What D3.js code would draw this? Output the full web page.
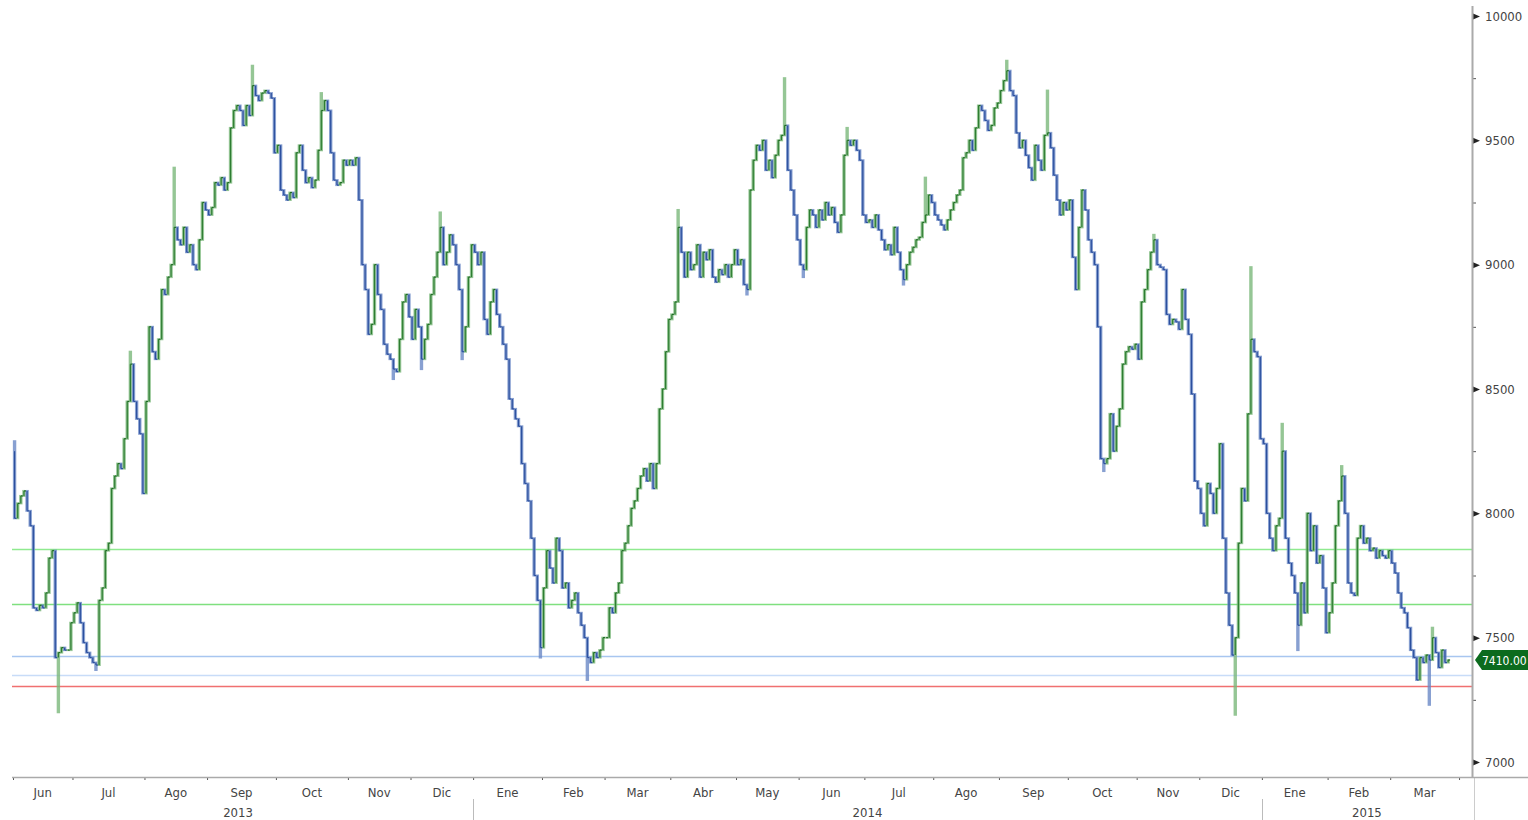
<!DOCTYPE html>
<html>
<head>
<meta charset="utf-8">
<script src="https://cdn.jsdelivr.net/npm/d3@7"></script>
<style>
  body { margin: 0; background: #fff; }
  svg { display: block; font-family: "DejaVu Sans Condensed", "DejaVu Sans", sans-serif; }
</style>
</head>
<body>
<svg id="chart" width="1528" height="820"></svg>
<script>
// month labels on the time axis (Spanish) and trading days per month
var monthLabels = ["Jun","Jul","Ago","Sep","Oct","Nov","Dic",
  "Ene","Feb","Mar","Abr","May","Jun","Jul","Ago","Sep","Oct","Nov","Dic",
  "Ene","Feb","Mar"];
var monthDays = [19,23,20,22,23,20,20, 22,20,21,21,20,21,22,21,22,22,20,20, 21,20,22];
var yearLabels = ["2013","2014","2015"];
var yearFirstMonth = [0, 7, 19];

// daily closes
var firstOpen = 8250;
var closes = [
  // Jun 2013
  7980,8040,8070,8090,8010,7950,7620,7610,7630,7620,7680,7820,7850,7420,7440,7460,7450,7450,7560,
  // Jul
  7600,7640,7560,7480,7440,7420,7400,7390,7650,7700,7850,7880,8100,8150,8200,8180,8300,8450,8600,8450,8380,8320,8080,
  // Ago
  8450,8750,8650,8620,8700,8900,8880,8950,9000,9150,9100,9080,9150,9050,9080,9000,8980,9100,9250,9220,
  // Sep
  9200,9230,9330,9320,9350,9300,9330,9550,9620,9640,9620,9560,9640,9600,9720,9680,9660,9690,9700,9690,9670,9450,
  // Oct
  9480,9300,9280,9260,9290,9270,9450,9480,9380,9330,9350,9310,9340,9460,9620,9660,9620,9450,9340,9320,9330,9420,9400,
  // Nov
  9420,9400,9430,9260,9000,8900,8720,8760,9000,8880,8820,8680,8640,8620,8580,8570,8700,8850,8880,8790,
  // Dic
  8700,8820,8750,8620,8700,8760,8880,8950,9050,9150,9000,9050,9120,9080,9000,8900,8650,8750,8950,9080,
  // Ene 2014
  9050,9000,9050,8780,8720,8850,8900,8800,8750,8680,8620,8460,8420,8380,8350,8200,8120,8050,7900,7750,7650,7460,
  // Feb
  7700,7850,7780,7720,7900,7850,7700,7720,7620,7650,7680,7600,7550,7500,7420,7400,7440,7420,7450,7500,
  // Mar
  7500,7620,7600,7680,7720,7850,7880,7950,8020,8050,8100,8150,8180,8130,8200,8100,8200,8420,8500,8650,8780,
  // Abr
  8800,8850,9150,9050,8950,9050,8980,9000,9080,8950,9050,9020,9060,8950,8930,8980,8960,9000,8950,9000,9060,
  // May
  9000,9020,8920,8900,9300,9420,9480,9460,9500,9380,9420,9350,9440,9500,9520,9560,9380,9300,9200,9100,
  // Jun
  9000,8980,9150,9220,9200,9150,9220,9180,9250,9200,9230,9170,9130,9200,9440,9500,9480,9500,9460,9420,9200,
  // Jul
  9170,9180,9150,9200,9140,9100,9060,9080,9040,9150,9050,8980,8940,9000,9050,9070,9100,9110,9170,9200,9280,9250,
  // Ago
  9200,9180,9160,9140,9180,9220,9250,9280,9300,9430,9450,9500,9460,9550,9640,9620,9580,9540,9560,9630,9650,
  // Sep
  9700,9740,9780,9700,9680,9530,9470,9500,9440,9390,9340,9480,9420,9380,9520,9530,9470,9360,9260,9200,9250,9220,
  // Oct
  9260,9030,8900,9150,9300,9220,9100,9050,9000,8750,8220,8200,8220,8400,8250,8350,8420,8600,8650,8670,8660,8680,
  // Nov
  8620,8850,8900,8980,9050,9100,9000,8990,8980,8800,8760,8780,8770,8740,8900,8780,8720,8480,8130,8100,
  // Dic
  8000,7950,8120,8080,8000,8100,8280,7900,7680,7550,7430,7500,7880,8100,8050,8400,8700,8650,8630,8300,
  // Ene 2015
  8280,8000,7900,7850,7950,7980,8250,7900,7800,7750,7680,7550,7720,7600,8000,7850,7950,7800,7830,7700,7520,
  // Feb
  7600,7720,7950,8050,8150,8000,7720,7680,7670,7900,7950,7880,7900,7850,7860,7820,7850,7830,7820,7850,
  // Mar
  7800,7760,7680,7620,7600,7540,7450,7420,7330,7420,7400,7430,7410,7500,7440,7380,7450,7400,7410
];

// visible wicks beyond the open/close range (bar index, price)
var wickIndex = [0,14,26,37,51,76,98,121,130,136,143,168,183,212,234,246,252,266,284,291,317,330,348,364,390,395,405,410,424,452,453];
var wickValue = [8290,7200,7370,8650,9390,9800,9690,8540,8580,9210,8620,7420,7330,9220,8880,9750,8950,9550,8920,9350,9820,9700,8170,9120,7190,8990,8360,7450,8190,7230,7540];

// horizontal levels
var levelValues = [7856, 7635, 7426, 7350, 7305];
var levelColors = ["#8fea8f", "#7fe07f", "#a8c6f0", "#c8dcf8", "#f07070"];

var yTicks = [7000, 7500, 8000, 8500, 9000, 9500, 10000];
var lastPrice = 7410.00;

var svg = d3.select("#chart");
var plotLeft = 12, plotRight = 1472, axisY = 777;

var totalDays = d3.sum(monthDays);
var x = d3.scaleBand()
  .domain(d3.range(totalDays))
  .range([13, 13 + totalDays * 3.13])
  .padding(0);

var y = d3.scaleLinear().domain([7000, 10000]).range([762, 16]);

// level lines
svg.append("g").selectAll("line")
  .data(levelValues)
  .enter().append("line")
  .attr("x1", plotLeft).attr("x2", plotRight)
  .attr("y1", function(d) { return Math.round(y(d)) + 0.5; })
  .attr("y2", function(d) { return Math.round(y(d)) + 0.5; })
  .attr("stroke", function(d, i) { return levelColors[i]; })
  .attr("stroke-width", 1.6);

// bars
var bars = closes.map(function(c, i) {
  var open = i ? closes[i - 1] : firstOpen;
  var hi = Math.max(open, c), lo = Math.min(open, c);
  var w = wickIndex.indexOf(i);
  if (w > -1) { hi = Math.max(hi, wickValue[w]); lo = Math.min(lo, wickValue[w]); }
  return { i: i, open: open, close: c, high: hi, low: lo, up: c >= open };
});

var barG = svg.append("g");
var cx = function(d) { return x(d.i) + x.bandwidth() / 2; };

barG.selectAll("line.body")
  .data(bars)
  .enter().append("line")
  .attr("class", "body")
  .attr("x1", cx).attr("x2", cx)
  .attr("y1", function(d) { return y(d.high) - 1; })
  .attr("y2", function(d) { return y(d.low) + 1; })
  .attr("stroke", function(d) { return d.up ? "#7ab87a" : "#6a88c6"; })
  .attr("stroke-width", 3.4)
  .attr("stroke-opacity", 0.8);

barG.selectAll("line.core")
  .data(bars)
  .enter().append("line")
  .attr("class", "core")
  .attr("x1", cx).attr("x2", cx)
  .attr("y1", function(d) { return y(Math.max(d.open, d.close)); })
  .attr("y2", function(d) { return y(Math.min(d.open, d.close)); })
  .attr("stroke", function(d) { return d.up ? "#2e7d32" : "#2b4f9e"; })
  .attr("stroke-width", 1.2);

barG.selectAll("line.cls")
  .data(bars)
  .enter().append("line")
  .attr("class", "cls")
  .attr("x1", cx)
  .attr("x2", function(d) { return cx(d) + 2; })
  .attr("y1", function(d) { return y(d.close); })
  .attr("y2", function(d) { return y(d.close); })
  .attr("stroke", function(d) { return d.up ? "#1f6b25" : "#2b4f9e"; })
  .attr("stroke-width", 1.2);

// right axis
var yAxis = d3.axisRight(y).tickValues(yTicks).tickSize(0).tickPadding(13)
  .tickFormat(d3.format("d"));
var ya = svg.append("g").attr("transform", "translate(" + plotRight + ",0)").call(yAxis);
ya.select(".domain").remove();
ya.selectAll("text").attr("font-size", 13).attr("fill", "#444")
  .attr("font-family", "DejaVu Sans Condensed, DejaVu Sans, sans-serif");
ya.selectAll(".tick").append("path")
  .attr("d", "M1,-3L8,0L1,3Z").attr("fill", "#222");

var minorTicks = yTicks.slice(0, -1).map(function(v) { return v + 250; });
var ym = svg.append("g").attr("transform", "translate(" + plotRight + ",0)")
  .call(d3.axisRight(y).tickValues(minorTicks).tickSize(4).tickFormat(""));
ym.select(".domain").remove();
ym.selectAll("line").attr("stroke", "#555");

svg.append("line")
  .attr("x1", plotRight + 0.5).attr("x2", plotRight + 0.5)
  .attr("y1", 6).attr("y2", axisY)
  .attr("stroke", "#aaa").attr("stroke-width", 2);
svg.append("line")
  .attr("x1", plotRight + 2.5).attr("x2", plotRight + 2.5)
  .attr("y1", axisY).attr("y2", 820)
  .attr("stroke", "#ccc").attr("stroke-width", 1);

// bottom axis
var monthStarts = [];
var acc = 0;
monthDays.forEach(function(n) { monthStarts.push(acc); acc += n; });
var boundaries = monthStarts.map(function(s) { return x(s); }).concat([x.range()[1]]);

var xa = svg.append("g").attr("transform", "translate(0," + axisY + ")")
  .call(d3.axisBottom(d3.scaleLinear().domain([0, 1528]).range([0, 1528]))
    .tickValues(boundaries).tickSize(3).tickFormat(""));
xa.select(".domain").remove();
xa.selectAll("line").attr("stroke", "#555");

svg.append("line")
  .attr("x1", plotLeft).attr("x2", 1528)
  .attr("y1", axisY + 0.5).attr("y2", axisY + 0.5)
  .attr("stroke", "#aaa").attr("stroke-width", 1.5);

svg.append("g").selectAll("text")
  .data(monthLabels)
  .enter().append("text")
  .attr("x", function(d, i) { return (boundaries[i] + boundaries[i + 1]) / 2; })
  .attr("y", 797)
  .attr("text-anchor", "middle")
  .attr("font-size", 13)
  .attr("fill", "#444")
  .text(function(d) { return d; });

var yearEdges = yearFirstMonth.map(function(m) { return boundaries[m]; }).concat([plotRight]);
svg.append("g").selectAll("text")
  .data(yearLabels)
  .enter().append("text")
  .attr("x", function(d, i) { return (yearEdges[i] + yearEdges[i + 1]) / 2 - (i === 0 ? 5 : 0); })
  .attr("y", 817)
  .attr("text-anchor", "middle")
  .attr("font-size", 13)
  .attr("fill", "#444")
  .text(function(d) { return d; });

svg.append("g").selectAll("line")
  .data(yearEdges.slice(1, -1))
  .enter().append("line")
  .attr("x1", function(d) { return Math.round(d) + 0.5; })
  .attr("x2", function(d) { return Math.round(d) + 0.5; })
  .attr("y1", 799).attr("y2", 820)
  .attr("stroke", "#bbb");

// last price tag
var ly = y(lastPrice);
svg.append("path")
  .attr("d", "M" + (plotRight + 3) + "," + ly + "L" + (plotRight + 10) + "," + (ly - 10) +
    "L1528," + (ly - 10) + "L1528," + (ly + 10) + "L" + (plotRight + 10) + "," + (ly + 10) + "Z")
  .attr("fill", "#0c6b1e");
svg.append("text")
  .attr("x", plotRight + 10).attr("y", ly + 4.5)
  .attr("font-size", 12).attr("fill", "#fff")
  .text(d3.format(".2f")(lastPrice));
</script>
</body>
</html>
